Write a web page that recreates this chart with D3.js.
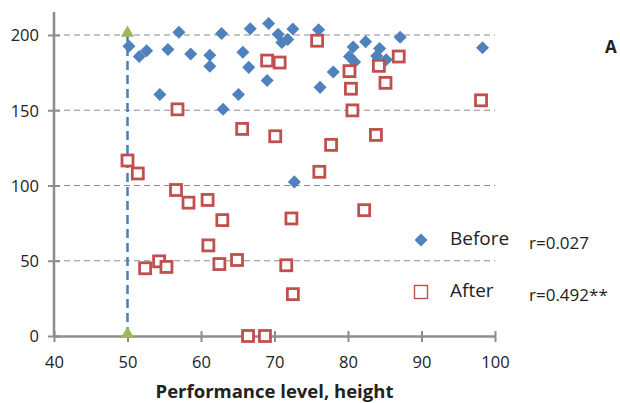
<!DOCTYPE html>
<html>
<head>
<meta charset="utf-8">
<script src="https://cdn.jsdelivr.net/npm/d3@7"></script>
<style>
  body { margin: 0; background: #fff; }
  text { font-family: "Open Sans", sans-serif; fill: #222; }
</style>
</head>
<body>
<script>
// Before: performance level vs height
const beforeX = [50.2, 51.6, 52.6, 54.4, 55.5, 57.0, 58.6, 61.2, 61.2, 62.8, 63.0, 65.1, 65.7, 66.5, 66.7, 69.0, 69.2,
                 70.5, 71.0, 71.8, 72.5, 72.7, 76.0, 76.2, 78.0, 80.2, 80.7, 80.9, 82.4, 83.9, 84.3, 85.2, 87.1, 98.3];
const beforeY = [192.5, 185.7, 189.6, 160.5, 190.3, 201.8, 187.4, 186.5, 179.2, 201, 150.7, 160.5, 188.6, 178.5, 204.2, 169.7, 207.6,
                 200.5, 195, 197, 204, 102.4, 203.5, 165.2, 175.4, 185.7, 192, 182, 195.5, 186, 191, 183.5, 198.5, 191.5];

// After
const afterX = [50.0, 51.4, 56.8, 65.6, 70.1, 69.0, 70.7, 75.8, 76.1, 77.7, 80.2, 80.4, 80.6, 84.2, 85.1, 86.9, 98.1,
                83.8, 82.2, 72.3, 71.6, 72.5, 66.4, 68.7, 56.6, 58.3, 60.9, 62.9, 61.0, 62.5, 64.9, 54.3, 55.3, 52.4];
const afterY = [116.6, 108, 150.6, 137.6, 132.7, 183, 181.7, 196.2, 109.1, 127, 176, 164.3, 149.9, 179.5, 168.2, 185.7, 156.6,
                133.6, 83.6, 78.1, 47, 27.8, 0, 0, 97, 88.6, 90.4, 77, 60.2, 47.8, 50.5, 49.6, 45.9, 45];

// threshold line at 50
const refX = [50, 50];
const refY = [0, 200];

const xTicks = [40, 50, 60, 70, 80, 90, 100];
const yTicks = [0, 50, 100, 150, 200];

const width = 620, height = 403;
const margin = { top: 35, right: 125, bottom: 67, left: 54 };

const svg = d3.select("body").append("svg")
    .attr("width", width)
    .attr("height", height);

const x = d3.scaleLinear().domain([40, 100]).range([margin.left, width - margin.right]);
const y = d3.scaleLinear().domain([0, 200]).range([height - margin.bottom, margin.top]);

// gridlines
svg.append("g")
    .selectAll("line")
    .data(yTicks.filter(d => d > 0))
    .enter()
    .append("line")
    .attr("x1", x(40))
    .attr("x2", x(100))
    .attr("y1", d => y(d))
    .attr("y2", d => y(d))
    .attr("stroke", "#8c8c8c")
    .attr("stroke-width", 1.2)
    .attr("stroke-dasharray", "6,4");

// axes
const xAxis = svg.append("g")
    .attr("transform", `translate(0,${y(0)})`)
    .call(d3.axisBottom(x).tickValues(xTicks).tickSize(6).tickSizeOuter(0));
xAxis.select(".domain").attr("stroke", "#8c8c8c").attr("stroke-width", 2.5);
xAxis.selectAll(".tick line").attr("stroke", "#8c8c8c").attr("stroke-width", 2).attr("y1", -5).attr("y2", 6);
xAxis.selectAll(".tick text").attr("dy", 0).attr("y", 32)
    .style("font-size", "16.5px").style("font-family", "Open Sans, sans-serif").attr("fill", "#222");

const yAxis = svg.append("g")
    .attr("transform", `translate(${x(40)},0)`)
    .call(d3.axisLeft(y).tickValues(yTicks).tickSize(6).tickSizeOuter(0));
yAxis.select(".domain").attr("d", `M0,${y(0)}V12`).attr("stroke", "#8c8c8c").attr("stroke-width", 2.5);
yAxis.selectAll(".tick line").attr("stroke", "#8c8c8c").attr("stroke-width", 2).attr("x1", 6).attr("x2", -6);
yAxis.selectAll(".tick text").attr("x", -15).attr("dy", "0.35em")
    .style("font-size", "16.5px").style("font-family", "Open Sans, sans-serif").attr("fill", "#222");

// threshold dashed line with triangle ends
svg.append("path")
    .datum(refX.map((d, i) => [d, refY[i]]))
    .attr("d", d3.line().x(d => x(d[0])).y(d => y(d[1])))
    .attr("stroke", "#4a7ebb")
    .attr("stroke-width", 2.5)
    .attr("stroke-dasharray", "9,5")
    .attr("fill", "none");

svg.append("g")
    .selectAll("path")
    .data(refX.map((d, i) => [d, refY[i]]))
    .enter()
    .append("path")
    .attr("d", d3.symbol().type(d3.symbolTriangle).size(75))
    .attr("transform", d => `translate(${x(d[0])},${y(d[1]) - 2})`)
    .attr("fill", "#9bbb59");

// before diamonds
const diamond = d3.symbol().type(d3.symbolSquare).size(85);
svg.append("g")
    .selectAll("path")
    .data(beforeX.map((d, i) => [d, beforeY[i]]))
    .enter()
    .append("path")
    .attr("d", diamond)
    .attr("transform", d => `translate(${x(d[0])},${y(d[1])}) rotate(45)`)
    .attr("fill", "#4f81bd");

// after squares
svg.append("g")
    .selectAll("rect")
    .data(afterX.map((d, i) => [d, afterY[i]]))
    .enter()
    .append("rect")
    .attr("x", d => x(d[0]) - 5.5)
    .attr("y", d => y(d[1]) - 5.5)
    .attr("width", 11)
    .attr("height", 11)
    .attr("fill", "#fff")
    .attr("stroke", "#c0504d")
    .attr("stroke-width", 2.8);

// legend
svg.append("path")
    .attr("d", diamond)
    .attr("transform", "translate(421,240) rotate(45)")
    .attr("fill", "#4f81bd");
svg.append("rect")
    .attr("x", 414.5).attr("y", 285.5)
    .attr("width", 13).attr("height", 13)
    .attr("fill", "none")
    .attr("stroke", "#c0504d")
    .attr("stroke-width", 1.4);

svg.append("text").attr("x", 450).attr("y", 245).style("font-size", "19px").text("Before");
svg.append("text").attr("x", 450).attr("y", 297).style("font-size", "19px").text("After");
svg.append("text").attr("x", 529).attr("y", 249).style("font-size", "17px").text("r=0.027");
svg.append("text").attr("x", 529).attr("y", 301).style("font-size", "17px").text("r=0.492**");

// panel letter
svg.append("text").attr("x", 605).attr("y", 53)
    .style("font-size", "17px").style("font-weight", "bold").text("A");

// x axis title
svg.append("text")
    .attr("x", (x(40) + x(100)) / 2)
    .attr("y", 398)
    .attr("text-anchor", "middle")
    .style("font-size", "18.5px")
    .style("font-weight", "bold")
    .text("Performance level, height");
</script>
</body>
</html>
